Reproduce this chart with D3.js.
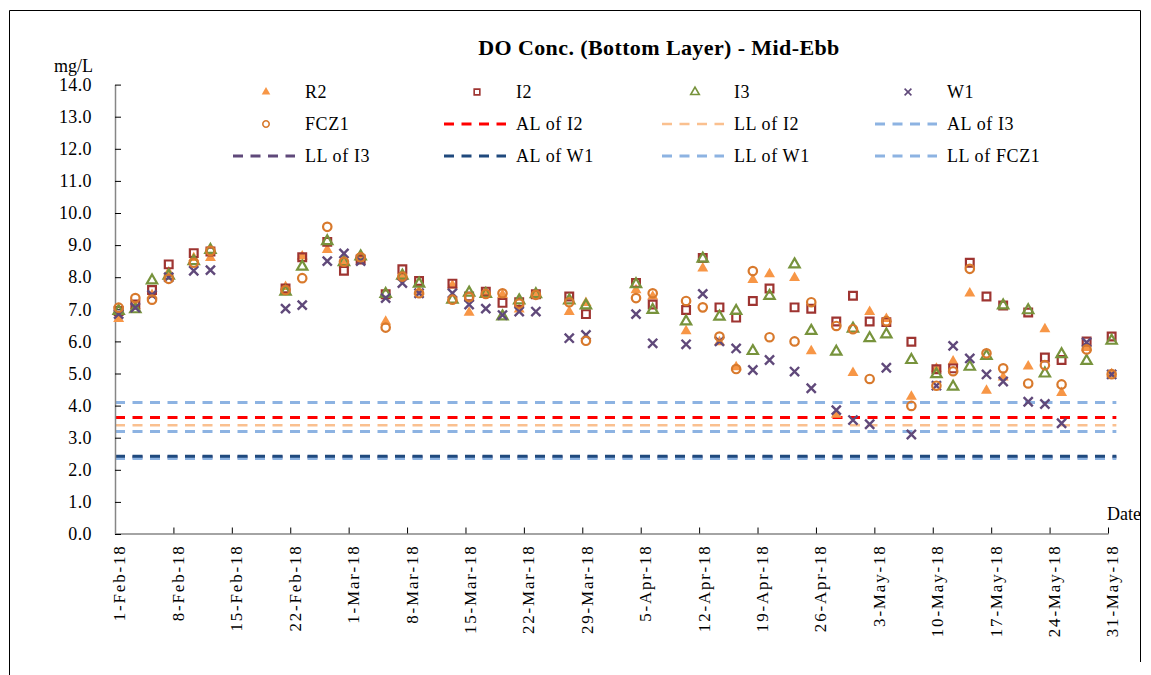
<!DOCTYPE html>
<html>
<head>
<meta charset="utf-8">
<script src="https://cdn.jsdelivr.net/npm/d3@7"></script>
<style>
  body { margin: 0; background: #fff; }
  text { font-family: "Liberation Serif", "Times New Roman", serif; fill: #000; }
</style>
</head>
<body>
<svg id="chart"></svg>
<script>
// sampling dates (mid-ebb, sampled around mid-morning)
const sampleDates = [
  "2018-02-01", "2018-02-03", "2018-02-05", "2018-02-07", "2018-02-10", "2018-02-12",
  "2018-02-21", "2018-02-23", "2018-02-26", "2018-02-28", "2018-03-02", "2018-03-05",
  "2018-03-07", "2018-03-09", "2018-03-13", "2018-03-15", "2018-03-17", "2018-03-19",
  "2018-03-21", "2018-03-23", "2018-03-27", "2018-03-29", "2018-04-04", "2018-04-06",
  "2018-04-10", "2018-04-12", "2018-04-14", "2018-04-16", "2018-04-18", "2018-04-20",
  "2018-04-23", "2018-04-25", "2018-04-28", "2018-04-30", "2018-05-02", "2018-05-04",
  "2018-05-07", "2018-05-10", "2018-05-12", "2018-05-14", "2018-05-16", "2018-05-18",
  "2018-05-21", "2018-05-23", "2018-05-25", "2018-05-28", "2018-05-31"
];
const sampleTime = "10:30";

const r2 = [6.7, 7.1, 7.45, 8.15, 8.6, 8.6, 7.7, 8.65, 8.85, 8.4, 8.6, 6.62, 8.0, 7.55, 7.75, 6.9,
  7.5, 7.45, 7.0, 7.42, 6.92, 7.2, 7.6, 7.4, 6.32, 8.28, 5.98, 5.2, 7.92, 8.1, 7.98, 5.7, 3.72,
  5.02, 6.92, 6.7, 4.28, 5.15, 5.38, 7.5, 4.47, 4.88, 5.22, 6.38, 4.4, 5.8, 4.98];
const i2 = [6.95, 7.15, 7.6, 8.4, 8.75, 8.8, 7.65, 8.62, 9.1, 8.2, 8.55, 7.47, 8.25, 7.88, 7.8, 7.4,
  7.55, 7.2, 7.22, 7.47, 7.4, 6.85, 7.82, 7.15, 6.98, 8.6, 7.06, 6.74, 7.26, 7.65, 7.06, 7.02, 6.62,
  7.42, 6.62, 6.6, 5.99, 5.13, 5.16, 8.45, 7.4, 7.12, 6.9, 5.5, 5.42, 6.0, 6.15];
const i3 = [6.95, 7.0, 7.9, 8.05, 8.5, 8.85, 7.55, 8.33, 9.12, 8.47, 8.65, 7.48, 8.05, 7.8, 7.3, 7.52,
  7.48, 6.78, 7.28, 7.47, 7.28, 7.12, 7.78, 6.98, 6.62, 8.58, 6.77, 6.95, 5.7, 7.42, 8.4, 6.33, 5.68,
  6.4, 6.1, 6.22, 5.42, 4.98, 4.59, 5.21, 5.55, 7.12, 6.97, 5.0, 5.6, 5.39, 6.02];
const w1 = [6.85, 7.05, 7.45, 8.0, 8.2, 8.22, 7.02, 7.13, 8.5, 8.74, 8.5, 7.35, 7.82, 7.5, 7.5, 7.15,
  7.02, 6.82, 6.93, 6.93, 6.1, 6.2, 6.85, 5.94, 5.91, 7.48, 6.0, 5.78, 5.11, 5.42, 5.06, 4.54, 3.86,
  3.55, 3.42, 5.18, 3.1, 4.62, 5.86, 5.47, 4.97, 4.75, 4.12, 4.05, 3.45, 5.97, 4.97];
const fcz1 = [7.05, 7.35, 7.3, 7.95, 8.45, 8.82, 7.6, 7.97, 9.57, 8.48, 8.62, 6.43, 8.02, 7.5, 7.3, 7.38,
  7.48, 7.5, 7.18, 7.45, 7.22, 6.02, 7.35, 7.5, 7.26, 7.06, 6.15, 5.14, 8.19, 6.13, 6.0, 7.22, 6.48,
  6.38, 4.83, 6.63, 3.99, 4.62, 5.07, 8.26, 5.63, 5.16, 4.69, 5.26, 4.66, 5.75, 4.98];

// action / limit levels (mg/L)
const limitNames = ["AL of I2", "LL of I2", "AL of I3", "LL of I3", "AL of W1", "LL of W1", "LL of FCZ1"];
const limitValues = [3.63, 3.39, 4.1, 2.4, 2.42, 3.19, 2.35];
const limitSpan = ["2018-02-01", "2018-06-01"];

const yTicks = [0, 1, 2, 3, 4, 5, 6, 7, 8, 9, 10, 11, 12, 13, 14];
const xStart = "2018-02-01", xEnd = "2018-05-31";

const width = 1151, height = 675;
const parse = d3.timeParse("%Y-%m-%d");
const parseTime = d3.timeParse("%Y-%m-%d %H:%M");

const svg = d3.select("#chart").attr("width", width).attr("height", height);

// outer chart border
svg.append("path")
  .attr("d", "M9.5,675 V10.5 H1140.5 V662")
  .attr("fill", "none").attr("stroke", "#000").attr("stroke-width", 1);

const x = d3.scaleTime().domain([parse(xStart), parse(xEnd)]).range([115, 1108]);
const y = d3.scaleLinear().domain([0, 14]).range([534, 84.6]);

// limit lines
const limitColors = ["#FF0000", "#FAC08F", "#8DB3E2", "#5F497A", "#1F497D", "#8DB3E2", "#8DB3E2"];
const lineOrder = [0, 1, 2, 3, 5, 6, 4]; // dark blue AL of W1 sits on top near 2.4
const lineG = svg.append("g");
lineOrder.forEach(i => {
  lineG.append("line")
    .attr("x1", x(parse(limitSpan[0]))).attr("x2", x(parse(limitSpan[1])))
    .attr("y1", y(limitValues[i])).attr("y2", y(limitValues[i]))
    .attr("stroke", limitColors[i])
    .attr("stroke-width", i === 1 ? 2.5 : 3)
    .attr("stroke-dasharray", "10,7.5");
});

// axes
const xAxis = d3.axisBottom(x)
  .tickValues(d3.timeDay.range(parse(xStart), d3.timeDay.offset(parse(xEnd), 1), 7))
  .tickFormat(d3.timeFormat("%-d-%b-%y"))
  .tickSize(-6).tickSizeOuter(0);
const gx = svg.append("g").attr("transform", "translate(0,533.5)").call(xAxis);
gx.select(".domain").attr("stroke", "#868686").attr("stroke-width", 1.5);
gx.selectAll(".tick line").attr("stroke", "#000").attr("stroke-width", 1);
gx.selectAll(".tick text")
  .attr("font-size", 17)
  .attr("letter-spacing", "1.8px")
  .attr("text-anchor", "end")
  .attr("transform", "translate(4,11) rotate(-90)")
  .attr("x", 0).attr("y", 0).attr("dy", "0.35em");

const yAxis = d3.axisLeft(y).tickValues(yTicks).tickFormat(d3.format(".1f"))
  .tickSize(-6).tickSizeOuter(0).tickPadding(23);
const gy = svg.append("g").attr("transform", "translate(115,0)").call(yAxis);
gy.select(".domain").attr("stroke", "#868686").attr("stroke-width", 1.5);
gy.selectAll(".tick line").attr("stroke", "#000").attr("stroke-width", 1);
gy.selectAll(".tick text").attr("font-size", 18).attr("letter-spacing", "0.4px");

svg.append("text").attr("x", 54).attr("y", 72).attr("font-size", 18).text("mg/L");
svg.append("text").attr("x", 1141).attr("y", 520).attr("text-anchor", "end")
  .attr("font-size", 18).text("Date");

svg.append("text").attr("x", 659).attr("y", 55).attr("text-anchor", "middle")
  .attr("font-size", 22).attr("font-weight", "bold").attr("letter-spacing", "0.4px")
  .text("DO Conc. (Bottom Layer) - Mid-Ebb");

// point series
const series = [
  { name: "R2", values: r2, type: d3.symbolTriangle, size: 52, fill: "#F79646", stroke: "none" },
  { name: "I2", values: i2, type: d3.symbolSquare, size: 60, fill: "none", stroke: "#9E3431" },
  { name: "I3", values: i3, type: d3.symbolTriangle, size: 46, fill: "none", stroke: "#77933C" },
  { name: "W1", values: w1, type: d3.symbolX, size: 56, fill: "none", stroke: "#60497A" },
  { name: "FCZ1", values: fcz1, type: d3.symbolCircle, size: 56, fill: "none", stroke: "#D8792C" }
];

series.forEach(s => {
  svg.append("g").selectAll("path")
    .data(s.values.map((v, i) => ({ date: parseTime(sampleDates[i] + " " + sampleTime), value: v })))
    .join("path")
    .attr("transform", d => `translate(${x(d.date)},${y(d.value)})`)
    .attr("d", d3.symbol().type(s.type).size(s.size))
    .attr("fill", s.fill)
    .attr("stroke", s.stroke)
    .attr("stroke-width", s.type === d3.symbolX ? 2.4 : 2.2);
});

// legend
const colX = [305, 516, 734, 947];
const rowY = [92, 124, 156];
const legend = svg.append("g");
const legendItems = [];
series.forEach(s => legendItems.push({ kind: "point", s }));
limitNames.forEach((n, i) => legendItems.push({ kind: "line", name: n, color: limitColors[i], w: i === 1 ? 2.5 : 3 }));

legendItems.forEach((it, k) => {
  const cx = colX[k % 4], cy = rowY[Math.floor(k / 4)];
  if (it.kind === "point") {
    legend.append("path")
      .attr("transform", `translate(${cx - 39},${cy})`)
      .attr("d", d3.symbol().type(it.s.type).size(32))
      .attr("fill", it.s.fill).attr("stroke", it.s.stroke).attr("stroke-width", 1.6);
    legend.append("text").attr("x", cx).attr("y", cy).attr("dy", "0.35em")
      .attr("font-size", 18).attr("letter-spacing", "0.6px").text(it.s.name);
  } else {
    legend.append("line")
      .attr("x1", cx - 72).attr("x2", cx - 10).attr("y1", cy).attr("y2", cy)
      .attr("stroke", it.color).attr("stroke-width", it.w).attr("stroke-dasharray", "10,7.5");
    legend.append("text").attr("x", cx).attr("y", cy).attr("dy", "0.35em")
      .attr("font-size", 18).attr("letter-spacing", "0.6px").text(it.name);
  }
});
</script>
</body>
</html>
